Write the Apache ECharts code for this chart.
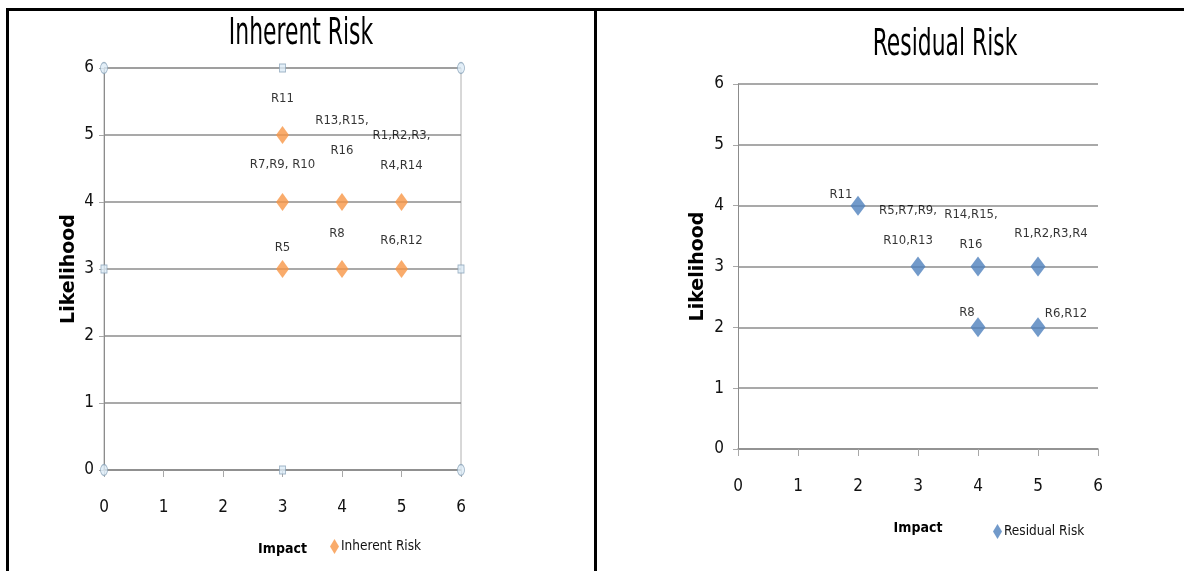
<!DOCTYPE html>
<html>
<head>
<meta charset="utf-8">
<script src="https://cdn.jsdelivr.net/npm/echarts@6/dist/echarts.min.js"></script>
<style>
  html, body { margin: 0; padding: 0; background: #fff; }
  #wrap { position: relative; width: 1184px; height: 571px; overflow: hidden; }
  #chart { position: absolute; left: 0; top: 0; width: 1184px; height: 571px; }
  .bar { position: absolute; background: #000; }
</style>
</head>
<body>
<div id="wrap">
  <div id="chart"></div>
  <div class="bar" style="left:6px;top:8px;width:1178px;height:3px;"></div>
  <div class="bar" style="left:6px;top:8px;width:3px;height:563px;"></div>
  <div class="bar" style="left:594px;top:8px;width:3px;height:563px;"></div>
</div>
<script>
// ---------- data ----------
const axisTicks = [0, 1, 2, 3, 4, 5, 6];
const titles = ['Inherent Risk', 'Residual Risk'];

const inherentImpact     = [3, 4, 5, 3, 3, 4, 5];
const inherentLikelihood = [5, 4, 4, 4, 3, 3, 3];
const inherentNames      = ['R11', 'R13,R15,\nR16', 'R1,R2,R3,\nR4,R14', 'R7,R9, R10', 'R5', 'R8', 'R6,R12'];

const residualImpact     = [2, 3, 4, 5, 4, 5];
const residualLikelihood = [4, 3, 3, 3, 2, 2];
const residualNames      = ['R11', 'R5,R7,R9,\nR10,R13', 'R14,R15,\nR16', 'R1,R2,R3,R4', 'R8', 'R6,R12'];

// selection handles shown on the left chart frame
const handleCircles = [[0, 6], [6, 6], [0, 0], [6, 0]];
const handleSquares = [[3, 6], [3, 0], [0, 3], [6, 3]];

// ---------- styling (label placement) ----------
const inherentLabelOffsets = [[0, -36], [0, -66], [0, -51], [0, -37], [0, -21], [-5, -35], [0, -28]];
const residualLabelOffsets = [[-17, -11], [-10, -41], [-7, -37], [13, -33], [-11, -15], [28, -14]];

const COND = "'DejaVu Sans Condensed', 'DejaVu Sans', sans-serif";
const ORANGE = '#F79646';
const BLUE = '#4F81BD';

function buildData(xs, ys, names, offsets) {
  return xs.map((x, i) => ({
    name: names[i],
    value: [x, ys[i]],
    label: { offset: offsets[i] }
  }));
}

function xAxisCfg(gridIndex) {
  return {
    type: 'value', gridIndex, min: axisTicks[0], max: axisTicks[axisTicks.length - 1], interval: 1,
    name: 'Impact', nameLocation: 'middle', nameGap: 72,
    nameTextStyle: { fontFamily: COND, fontWeight: 'bold', fontSize: 14, color: '#000' },
    axisLine: { show: true, onZero: false, lineStyle: { color: '#8c8c8c', width: 1.5 } },
    axisTick: { show: true, length: 7, lineStyle: { color: '#a8a8a8' } },
    axisLabel: { fontFamily: COND, fontSize: 17, color: '#111', margin: 29 },
    splitLine: { show: false }
  };
}
function yAxisCfg(gridIndex, gap, margin) {
  return {
    type: 'value', gridIndex, min: axisTicks[0], max: axisTicks[axisTicks.length - 1], interval: 1,
    name: 'Likelihood', nameLocation: 'middle', nameGap: gap, nameRotate: 90,
    nameTextStyle: { fontFamily: "'DejaVu Sans', sans-serif", fontWeight: 'bold', fontSize: 19, color: '#000' },
    axisLine: { show: true, onZero: false, lineStyle: { color: '#8c8c8c', width: 1 } },
    axisTick: { show: true, length: 5, lineStyle: { color: '#a8a8a8' } },
    axisLabel: { fontFamily: COND, fontSize: 17, color: '#111', margin },
    splitLine: { show: true, lineStyle: { color: '#8c8c8c', width: 1.5 } }
  };
}

const labelBase = {
  show: true, position: 'inside', formatter: '{b}',
  fontFamily: COND, fontSize: 13, color: '#000', lineHeight: 30,
  align: 'center', verticalAlign: 'middle'
};

function titleText(text, x, y) {
  return {
    type: 'text', x, y, scaleX: 0.64, scaleY: 1, silent: true,
    style: { text, font: "normal 38px 'DejaVu Sans Condensed', 'DejaVu Sans', sans-serif",
             fill: '#000', textAlign: 'center', textVerticalAlign: 'middle' }
  };
}

const chart = echarts.init(document.getElementById('chart'), null, { renderer: 'canvas' });
chart.setOption({
  backgroundColor: 'transparent',
  animation: false,
  graphic: [titleText(titles[0], 301, 34), titleText(titles[1], 945, 45)],
  legend: [
    { data: ['Inherent Risk'], left: 325, top: 534, icon: 'diamond', itemWidth: 9, itemHeight: 15, itemGap: 4,
      textStyle: { fontFamily: COND, fontSize: 13.5, color: '#111', padding: [0, 0, 0, -3] } },
    { data: ['Residual Risk'], left: 988, top: 519, icon: 'diamond', itemWidth: 9, itemHeight: 15, itemGap: 4,
      textStyle: { fontFamily: COND, fontSize: 13.5, color: '#111', padding: [0, 0, 0, -3] } }
  ],
  grid: [
    { left: 104, top: 68, width: 357, height: 402, show: true, borderColor: '#b0b0b0', borderWidth: 1,
      containLabel: false, outerBoundsMode: 'none' },
    { left: 738, top: 84, width: 360, height: 365, containLabel: false, outerBoundsMode: 'none' }
  ],
  xAxis: [xAxisCfg(0), xAxisCfg(1)],
  yAxis: [yAxisCfg(0, 25, 10), yAxisCfg(1, 30, 14)],
  series: [
    {
      name: 'Inherent Risk', type: 'scatter', xAxisIndex: 0, yAxisIndex: 0,
      symbol: 'diamond', symbolSize: [13, 18], clip: false,
      itemStyle: { color: ORANGE },
      label: labelBase,
      data: buildData(inherentImpact, inherentLikelihood, inherentNames, inherentLabelOffsets),
      z: 5
    },
    {
      name: 'Residual Risk', type: 'scatter', xAxisIndex: 1, yAxisIndex: 1,
      symbol: 'diamond', symbolSize: [15, 20], clip: false,
      itemStyle: { color: BLUE },
      label: labelBase,
      data: buildData(residualImpact, residualLikelihood, residualNames, residualLabelOffsets),
      z: 5
    },
    {
      name: 'handlesC', type: 'scatter', xAxisIndex: 0, yAxisIndex: 0, silent: true, clip: false,
      symbol: 'circle', symbolSize: [7, 11],
      itemStyle: { color: '#dcebf6', borderColor: '#8aa3b8', borderWidth: 1 },
      data: handleCircles, z: 6
    },
    {
      name: 'handlesS', type: 'scatter', xAxisIndex: 0, yAxisIndex: 0, silent: true, clip: false,
      symbol: 'rect', symbolSize: [6, 8],
      itemStyle: { color: '#dcebf6', borderColor: '#8aa3b8', borderWidth: 1 },
      data: handleSquares, z: 6
    }
  ]
});
</script>
</body>
</html>
